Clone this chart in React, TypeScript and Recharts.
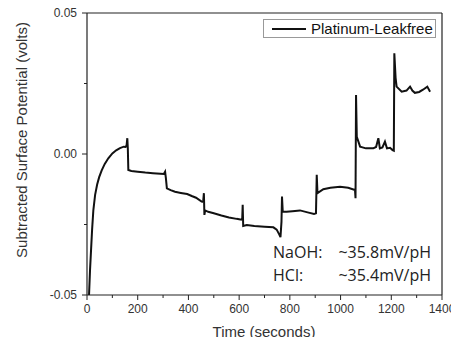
import React from 'react';
import {
  LineChart,
  Line,
  XAxis,
  YAxis,
  ReferenceLine,
  Legend,
  Customized,
} from 'recharts';

// time in seconds
const times = [
  8, 12, 16, 20, 25, 32, 40, 48, 58, 70, 84, 100, 115, 130, 145, 152, 156,
  159, 161, 163,
  175, 200, 230, 260, 290, 303, 308, 311, 315,
  330, 347, 370, 395, 413, 430, 452, 458, 461, 463, 466,
  478, 500, 530, 560, 590, 605, 612, 614, 616, 630, 660, 700, 735, 748, 758, 763,
  767, 769, 772,
  787, 810, 840, 870, 895, 903,
  906, 909,
  932, 960, 998, 1030, 1057, 1059,
  1061, 1064, 1077,
  1100, 1129, 1140, 1149, 1155, 1165, 1175, 1183, 1195, 1205, 1210,
  1212, 1217, 1221,
  1241, 1260, 1274, 1283, 1293, 1310, 1325, 1342, 1353,
];

// subtracted surface potential in volts
const potential = [
  -0.05, -0.041, -0.034, -0.027, -0.02, -0.0145, -0.0108, -0.0082, -0.0058, -0.0035, -0.0015, 0.0002, 0.0013, 0.0021, 0.0026, 0.0025, 0.003,
  0.0056, 0.002, -0.0057,
  -0.006, -0.0063, -0.0066, -0.0068, -0.007, -0.0071, -0.0063, -0.0085, -0.0122,
  -0.0128, -0.0134, -0.0138, -0.0142, -0.0149, -0.0155, -0.0169, -0.017, -0.0139, -0.0216, -0.02,
  -0.0205, -0.021, -0.0218, -0.0225, -0.023, -0.0232, -0.0233, -0.018, -0.0255, -0.0252, -0.0255, -0.0258, -0.026, -0.0268, -0.0285, -0.0295,
  -0.024, -0.0151, -0.0205,
  -0.0205, -0.0203, -0.02, -0.0207, -0.0213, -0.021,
  -0.0074, -0.0139,
  -0.0125, -0.012, -0.0116, -0.012, -0.0128, -0.0157,
  0.0209, 0.0061, 0.0026,
  0.002, 0.002, 0.0025, 0.0056, 0.002, 0.0023, 0.0044, 0.002, 0.0022, 0.0014, 0.0012,
  0.0357, 0.027, 0.0239,
  0.0221, 0.0225, 0.0239, 0.0225, 0.0217, 0.022, 0.0228, 0.0239, 0.0221,
];

const xTicks = [0, 100, 200, 300, 400, 500, 600, 700, 800, 900, 1000, 1100, 1200, 1300, 1400];
const xLabelled = [0, 200, 400, 600, 800, 1000, 1200, 1400];
const yTicks = [-0.05, -0.025, 0, 0.025, 0.05];
const yLabels: Record<string, string> = { '-0.05': '-0.05', '0': '0.00', '0.05': '0.05' };

const seriesName = 'Platinum-Leakfree';
const notes = [
  ['NaOH:', '~35.8mV/pH'],
  ['HCl:', '~35.4mV/pH'],
];

const data = times.map((t, i) => ({ t, v: potential[i] }));

const axisColor = '#222';
const tickFont = '"Liberation Sans", Arial, sans-serif';

const XTick = (props: any) => {
  const { x, y, payload } = props;
  const major = xLabelled.includes(payload.value);
  return (
    <g>
      <line x1={x} x2={x} y1={y} y2={y + (major ? 5 : 3)} stroke={axisColor} />
      {major && (
        <text x={x} y={y + 18} textAnchor="middle" fontSize={12} fontFamily={tickFont} fill="#333">
          {payload.value}
        </text>
      )}
    </g>
  );
};

const YTick = (props: any) => {
  const { x, y, payload } = props;
  const label = yLabels[String(payload.value)];
  return (
    <g>
      <line x1={x - (label ? 5 : 3)} x2={x} y1={y} y2={y} stroke={axisColor} />
      {label && (
        <text x={x - 10} y={y + 4} textAnchor="end" fontSize={12} fontFamily={tickFont} fill="#333">
          {label}
        </text>
      )}
    </g>
  );
};

const LegendBox = () => (
  <div
    style={{
      border: '1px solid #999',
      width: 171,
      height: 17,
      display: 'flex',
      alignItems: 'center',
      fontFamily: tickFont,
      fontSize: 15,
      color: '#111',
      background: '#fff',
    }}
  >
    <svg width={44} height={17}>
      <line x1={8} x2={42} y1={9} y2={9} stroke="#111" strokeWidth={2} />
    </svg>
    <span style={{ marginLeft: 3, lineHeight: '17px' }}>{seriesName}</span>
  </div>
);

const Texts = () => (
  <g>
    <text
      transform="translate(27,140) rotate(-90)"
      textAnchor="middle"
      fontSize={15}
      fontFamily={tickFont}
      fill="#333"
    >
      Subtracted Surface Potential (volts)
    </text>
    <text x={264} y={337} textAnchor="middle" fontSize={15} fontFamily={tickFont} fill="#333">
      Time (seconds)
    </text>
    {notes.map(([k, val], i) => (
      <g key={k}>
        <text x={273} y={258 + i * 23} fontSize={16} fontFamily='"Open Sans", sans-serif' fill="#222">
          {k}
        </text>
        <text x={431} y={258 + i * 23} textAnchor="end" fontSize={16} fontFamily='"Open Sans", sans-serif' fill="#222">
          {val}
        </text>
      </g>
    ))}
  </g>
);

export default function App() {
  return (
    <div style={{ margin: -8, background: '#fff' }}>
      <LineChart width={459} height={345} data={data} margin={{ top: 13, right: 17, bottom: 20, left: 27 }}>
        <XAxis
          dataKey="t"
          type="number"
          domain={[0, 1400]}
          ticks={xTicks}
          interval={0}
          allowDataOverflow
          height={30}
          tickSize={0}
          tickMargin={0}
          tickLine={false}
          tick={<XTick />}
          axisLine={{ stroke: axisColor, strokeWidth: 1.2 }}
        />
        <YAxis
          type="number"
          domain={[-0.05, 0.05]}
          ticks={yTicks}
          interval={0}
          allowDataOverflow
          width={60}
          tickSize={0}
          tickMargin={0}
          tickLine={false}
          tick={<YTick />}
          axisLine={{ stroke: axisColor, strokeWidth: 1.2 }}
        />
        <ReferenceLine y={0.05} stroke={axisColor} strokeWidth={1.2} />
        <ReferenceLine x={1400} stroke={axisColor} strokeWidth={1.2} />
        <Line
          type="linear"
          dataKey="v"
          name={seriesName}
          stroke="#111"
          strokeWidth={2}
          dot={false}
          isAnimationActive={false}
        />
        <Legend
          layout="horizontal"
          verticalAlign="middle"
          content={<LegendBox />}
          wrapperStyle={{ top: 19, left: 263, width: 173, height: 19 }}
        />
        <Customized component={Texts} />
      </LineChart>
    </div>
  );
}
